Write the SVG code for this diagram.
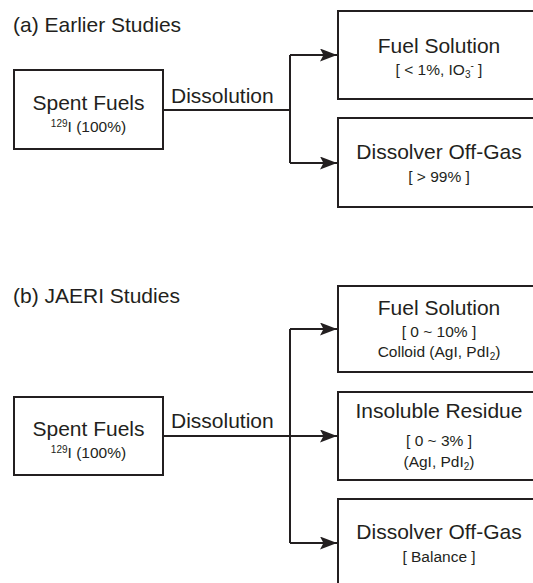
<svg xmlns="http://www.w3.org/2000/svg" width="533" height="583" viewBox="0 0 533 583">
<style>
text{font-family:"Liberation Sans",Arial,sans-serif;fill:#231f20}
.t{font-size:21px}
.s{font-size:15.5px}
.c{text-anchor:middle}
.box{fill:#fff;stroke:#231f20;stroke-width:2}
.ln{fill:none;stroke:#231f20;stroke-width:2}
</style>
<defs>
<marker id="ah" viewBox="0 0 17 13" refX="17" refY="6.5" markerWidth="17" markerHeight="13" markerUnits="userSpaceOnUse" orient="auto">
<path d="M0,0 L17,6.5 L0,13 L3.5,6.5 Z" fill="#231f20"/>
</marker>
</defs>
<rect width="533" height="583" fill="#fff"/>
<text class="t" x="13" y="32">(a) Earlier Studies</text>
<text class="t" x="13" y="303">(b) JAERI Studies</text>
<g id="connectors">
<path class="ln" d="M163,110 H290"/>
<path class="ln" d="M290,55 V163"/>
<path class="ln" d="M290,55 H337" marker-end="url(#ah)"/>
<path class="ln" d="M290,163 H337" marker-end="url(#ah)"/>
<text class="t" x="171" y="103">Dissolution</text>
<path class="ln" d="M163,436 H290"/>
<path class="ln" d="M290,329 V543"/>
<path class="ln" d="M290,329 H337" marker-end="url(#ah)"/>
<path class="ln" d="M290,436 H337" marker-end="url(#ah)"/>
<path class="ln" d="M290,543 H337" marker-end="url(#ah)"/>
<text class="t" x="171" y="428">Dissolution</text>
</g>
<g id="a-spent">
<rect class="box" x="14" y="70" width="149" height="79"/>
<text class="t c" x="88.5" y="110">Spent Fuels</text>
<text class="s c" x="88.5" y="132"><tspan font-size="10" dy="-5">129</tspan><tspan dy="5">I (100%)</tspan></text>
</g>
<g id="a-fuel">
<rect class="box" x="338" y="11" width="210" height="88"/>
<text class="t c" x="439" y="53">Fuel Solution</text>
<text class="s c" x="439" y="75">[ &lt; 1%, IO<tspan font-size="10" dy="3">3</tspan><tspan font-size="10" dy="-9">-</tspan><tspan dy="6"> ]</tspan></text>
</g>
<g id="a-gas">
<rect class="box" x="338" y="118" width="210" height="89"/>
<text class="t c" x="439" y="159">Dissolver Off-Gas</text>
<text class="s c" x="439" y="182">[ &gt; 99% ]</text>
</g>
<g id="b-spent">
<rect class="box" x="14" y="397" width="149" height="78"/>
<text class="t c" x="88.5" y="436">Spent Fuels</text>
<text class="s c" x="88.5" y="458"><tspan font-size="10" dy="-5">129</tspan><tspan dy="5">I (100%)</tspan></text>
</g>
<g id="b-fuel">
<rect class="box" x="338" y="286" width="210" height="86"/>
<text class="t c" x="439" y="315">Fuel Solution</text>
<text class="s c" x="439" y="337">[ 0 ~ 10% ]</text>
<text class="s c" x="439" y="357">Colloid (AgI, PdI<tspan font-size="10" dy="3">2</tspan><tspan dy="-3">)</tspan></text>
</g>
<g id="b-residue">
<rect class="box" x="338" y="392" width="210" height="88"/>
<text class="t c" x="439" y="418">Insoluble Residue</text>
<text class="s c" x="439" y="446">[ 0 ~ 3% ]</text>
<text class="s c" x="439" y="467">(AgI, PdI<tspan font-size="10" dy="3">2</tspan><tspan dy="-3">)</tspan></text>
</g>
<g id="b-gas">
<rect class="box" x="338" y="499" width="210" height="100"/>
<text class="t c" x="439" y="539">Dissolver Off-Gas</text>
<text class="s c" x="439" y="562">[ Balance ]</text>
</g>
</svg>
